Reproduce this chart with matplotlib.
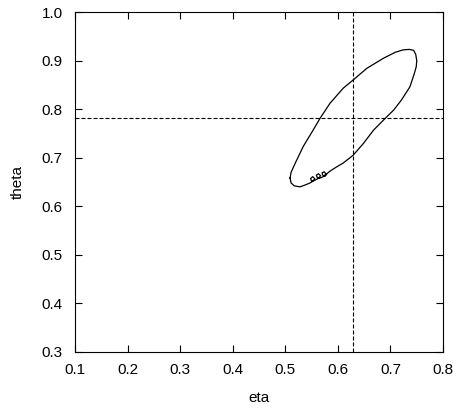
import numpy as np
import matplotlib
matplotlib.use('Agg')
import matplotlib.pyplot as plt

# closed trajectory (eta, theta)
ETA = [0.509, 0.511, 0.519, 0.534, 0.553, 0.566, 0.585, 0.610, 0.629, 0.655,
       0.687, 0.709, 0.724, 0.736, 0.744, 0.748, 0.750, 0.749, 0.745, 0.737,
       0.721, 0.706, 0.690, 0.668, 0.649, 0.629, 0.610, 0.596, 0.586,
       0.580, 0.576, 0.571, 0.570, 0.574, 0.577, 0.574,
       0.566, 0.561, 0.559, 0.563, 0.567, 0.564,
       0.555, 0.550, 0.548, 0.552, 0.556, 0.553, 0.547,
       0.538, 0.528, 0.517, 0.511, 0.509]
THETA = [0.658, 0.670, 0.689, 0.723, 0.757, 0.781, 0.812, 0.843, 0.860, 0.884,
         0.905, 0.917, 0.922, 0.923, 0.921, 0.913, 0.900, 0.887, 0.872, 0.846,
         0.819, 0.798, 0.781, 0.757, 0.730, 0.705, 0.689, 0.680, 0.673,
         0.668, 0.662, 0.664, 0.669, 0.671, 0.667, 0.662,
         0.658, 0.659, 0.664, 0.667, 0.663, 0.658,
         0.653, 0.652, 0.657, 0.661, 0.657, 0.652, 0.648,
         0.644, 0.640, 0.642, 0.648, 0.658]

ETA_TRUE = 0.629
THETA_TRUE = 0.781

XTICKS = [0.1, 0.2, 0.3, 0.4, 0.5, 0.6, 0.7, 0.8]
YTICKS = [0.3, 0.4, 0.5, 0.6, 0.7, 0.8, 0.9, 1.0]

plt.rcParams['font.family'] = ['Liberation Sans', 'DejaVu Sans']

fig = plt.figure(figsize=(4.53, 4.11), dpi=100)
ax = fig.add_axes([0.1656, 0.1436, 0.8124, 0.8272])

ax.plot(ETA, THETA, color='black', linewidth=0.9)
ax.axvline(ETA_TRUE, color='black', linewidth=0.8, linestyle=(0, (3.6, 1.8)))
ax.axhline(THETA_TRUE, color='black', linewidth=0.8, linestyle=(0, (3.6, 1.8)))

ax.set_xlim(0.1, 0.8)
ax.set_ylim(0.3, 1.0)
ax.set_xticks(XTICKS)
ax.set_yticks(YTICKS)
ax.set_xticklabels([f'{v:.1f}' for v in XTICKS])
ax.set_yticklabels([f'{v:.1f}' for v in YTICKS])
ax.tick_params(direction='in', length=5, width=0.8, top=True, right=True,
               labelsize=11, colors='black')
ax.tick_params(axis='x', pad=8)
ax.tick_params(axis='y', pad=9)
for s in ax.spines.values():
    s.set_linewidth(0.8)

ax.set_xlabel('eta', fontsize=11, labelpad=10)
ax.set_ylabel('theta', fontsize=11, labelpad=12)

fig.savefig('out.png', dpi=100)
